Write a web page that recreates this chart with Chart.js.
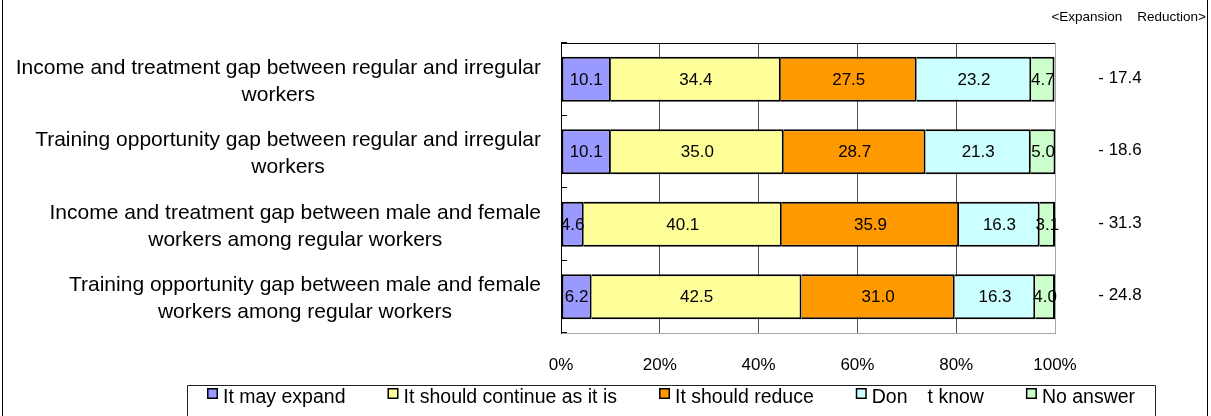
<!DOCTYPE html>
<html><head><meta charset="utf-8">
<script src="https://cdn.jsdelivr.net/npm/chart.js@4.4.0/dist/chart.umd.min.js"></script>
<style>html,body{margin:0;padding:0;background:#fff;overflow:hidden}#wrap{width:1211px;height:416px;position:relative}</style>
</head><body><div id="wrap"><canvas id="c" width="1211" height="416"></canvas></div>
<script>
const categories = [
  ['Income and treatment gap between regular and irregular', 'workers'],
  ['Training opportunity gap between regular and irregular', 'workers'],
  ['Income and treatment gap between male and female', 'workers among regular workers'],
  ['Training opportunity gap between male and female', 'workers among regular workers']
];
const seriesNames = ['It may expand', 'It should continue as it is', 'It should reduce', 'Don\u3000t know', 'No answer'];
const mayExpand      = [10.1, 10.1, 4.6, 6.2];
const shouldContinue = [34.4, 35.0, 40.1, 42.5];
const shouldReduce   = [27.5, 28.7, 35.9, 31.0];
const dontKnow       = [23.2, 21.3, 16.3, 16.3];
const noAnswer       = [4.7, 5.0, 3.1, 4.0];
const balance        = [-17.4, -18.6, -31.3, -24.8];
const xTickValues    = [0, 20, 40, 60, 80, 100];
const headerLabels   = ['<Expansion', 'Reduction>'];
const colors = ['#9999FF', '#FFFF99', '#FF9900', '#CCFFFF', '#CCFFCC'];

const FONT = '"Liberation Sans", Arial, sans-serif';
const seriesValues = [mayExpand, shouldContinue, shouldReduce, dontKnow, noAnswer];

const datasets = seriesValues.map((d, i) => ({
  label: seriesNames[i],
  data: d,
  backgroundColor: colors[i],
  borderColor: '#000',
  borderWidth: 2,
  borderSkipped: i === 0 ? false : 'start',
  barPercentage: 0.62,
  categoryPercentage: 1.0
}));

const decor = {
  id: 'decor',
  afterDatasetsDraw(chart) {
    const ctx = chart.ctx, ca = chart.chartArea, ys = chart.scales.y;
    ctx.save();
    ctx.strokeStyle = '#000'; ctx.lineWidth = 1;
    ctx.beginPath();
    ctx.moveTo(ca.left, Math.round(ca.top) + 0.5);
    ctx.lineTo(ca.right, Math.round(ca.top) + 0.5);
    ctx.stroke();
    const n = chart.data.labels.length;
    for (let i = 0; i <= n; i++) {
      let y;
      if (i === 0) y = ca.top; else if (i === n) y = ca.bottom;
      else y = (ys.getPixelForTick(i - 1) + ys.getPixelForTick(i)) / 2;
      y = Math.round(y) - 0.5;
      ctx.beginPath(); ctx.moveTo(ca.left, y); ctx.lineTo(ca.left + 6, y); ctx.stroke();
    }
    ctx.font = '17px ' + FONT; ctx.fillStyle = '#000';
    ctx.textAlign = 'center'; ctx.textBaseline = 'middle';
    chart.data.datasets.forEach((ds, di) => {
      const meta = chart.getDatasetMeta(di);
      meta.data.forEach((el, j) => {
        ctx.fillText(ds.data[j].toFixed(1), (el.x + el.base) / 2, el.y + 1);
      });
    });
    ctx.restore();
  },
  afterDraw(chart) {
    const ctx = chart.ctx, ca = chart.chartArea, ys = chart.scales.y;
    ctx.save();
    ctx.fillStyle = '#000'; ctx.strokeStyle = '#000'; ctx.lineWidth = 1;
    ctx.beginPath();
    ctx.moveTo(2.5, 0); ctx.lineTo(2.5, chart.height);
    ctx.moveTo(1207.5, 0); ctx.lineTo(1207.5, chart.height);
    ctx.stroke();
    ctx.font = '17px ' + FONT; ctx.textAlign = 'center'; ctx.textBaseline = 'middle';
    balance.forEach((v, i) => {
      const t = (v < 0 ? '- ' : '') + Math.abs(v).toFixed(1);
      ctx.fillText(t, ca.right + 65, ys.getPixelForTick(i) - 1);
    });
    ctx.font = '13.5px ' + FONT; ctx.textAlign = 'right';
    const wR = ctx.measureText(headerLabels[1]).width;
    ctx.fillText(headerLabels[1], 1206, 17);
    ctx.fillText(headerLabels[0], 1206 - wR - 15, 17);
    ctx.font = '21px ' + FONT; ctx.textAlign = 'center';
    const LH = 27;
    chart.data.labels.forEach((lines, i) => {
      const w = Math.max(...lines.map(s => ctx.measureText(s).width));
      const cx = ca.left - 20 - w / 2;
      const cy = ys.getPixelForTick(i) + 2;
      lines.forEach((s, k) => {
        ctx.fillText(s, cx, cy + (k - (lines.length - 1) / 2) * LH);
      });
    });
    const L = 187.5, R = 1155.5, T = 385.5;
    ctx.strokeStyle = '#222';
    ctx.beginPath();
    ctx.moveTo(L, chart.height); ctx.lineTo(L, T); ctx.lineTo(R, T); ctx.lineTo(R, chart.height);
    ctx.stroke();
    ctx.font = '19.5px ' + FONT; ctx.textAlign = 'left'; ctx.textBaseline = 'alphabetic';
    const box = 11, gapText = 5, gapItem = 42;
    const items = chart.data.datasets.map(d => ({ label: d.label, color: d.backgroundColor, w: ctx.measureText(d.label).width }));
    const total = items.reduce((a, it) => a + box + gapText + it.w, 0) + gapItem * (items.length - 1);
    let x = Math.round((L + R) / 2 - total / 2);
    items.forEach(it => {
      ctx.fillStyle = it.color; ctx.fillRect(x, 388, box, box);
      ctx.strokeStyle = '#000'; ctx.lineWidth = 1.5; ctx.strokeRect(x + 0.75, 388.75, box - 1.5, box - 1.5);
      ctx.fillStyle = '#000';
      ctx.fillText(it.label, x + box + gapText, 403);
      x += box + gapText + it.w + gapItem;
    });
    ctx.restore();
  }
};

new Chart(document.getElementById('c'), {
  type: 'bar',
  data: { labels: categories, datasets },
  options: {
    indexAxis: 'y',
    responsive: false,
    animation: false,
    devicePixelRatio: 1,
    layout: { padding: { top: 43, right: 156, left: 0, bottom: 0 } },
    plugins: { legend: { display: false }, tooltip: { enabled: false } },
    scales: {
      x: {
        type: 'linear', stacked: true, min: 0, max: 100,
        afterBuildTicks: s => { s.ticks = xTickValues.map(v => ({ value: v })); },
        ticks: { callback: v => v + '%', color: '#000', font: { family: FONT, size: 17 }, padding: 22, maxRotation: 0 },
        grid: {
          drawTicks: false, lineWidth: 1,
          color: c => c.tick && c.tick.value === 100 ? '#a6a6a6' : (c.tick && c.tick.value === 0 ? '#000' : '#555')
        },
        border: { color: '#a6a6a6', width: 1 },
        afterFit: s => { s.height = 83; }
      },
      y: {
        stacked: true,
        ticks: { display: false },
        grid: { display: false, drawTicks: false },
        border: { color: '#000', width: 1 },
        afterFit: s => { s.width = 561; }
      }
    }
  },
  plugins: [decor]
});
</script>
</body></html>
